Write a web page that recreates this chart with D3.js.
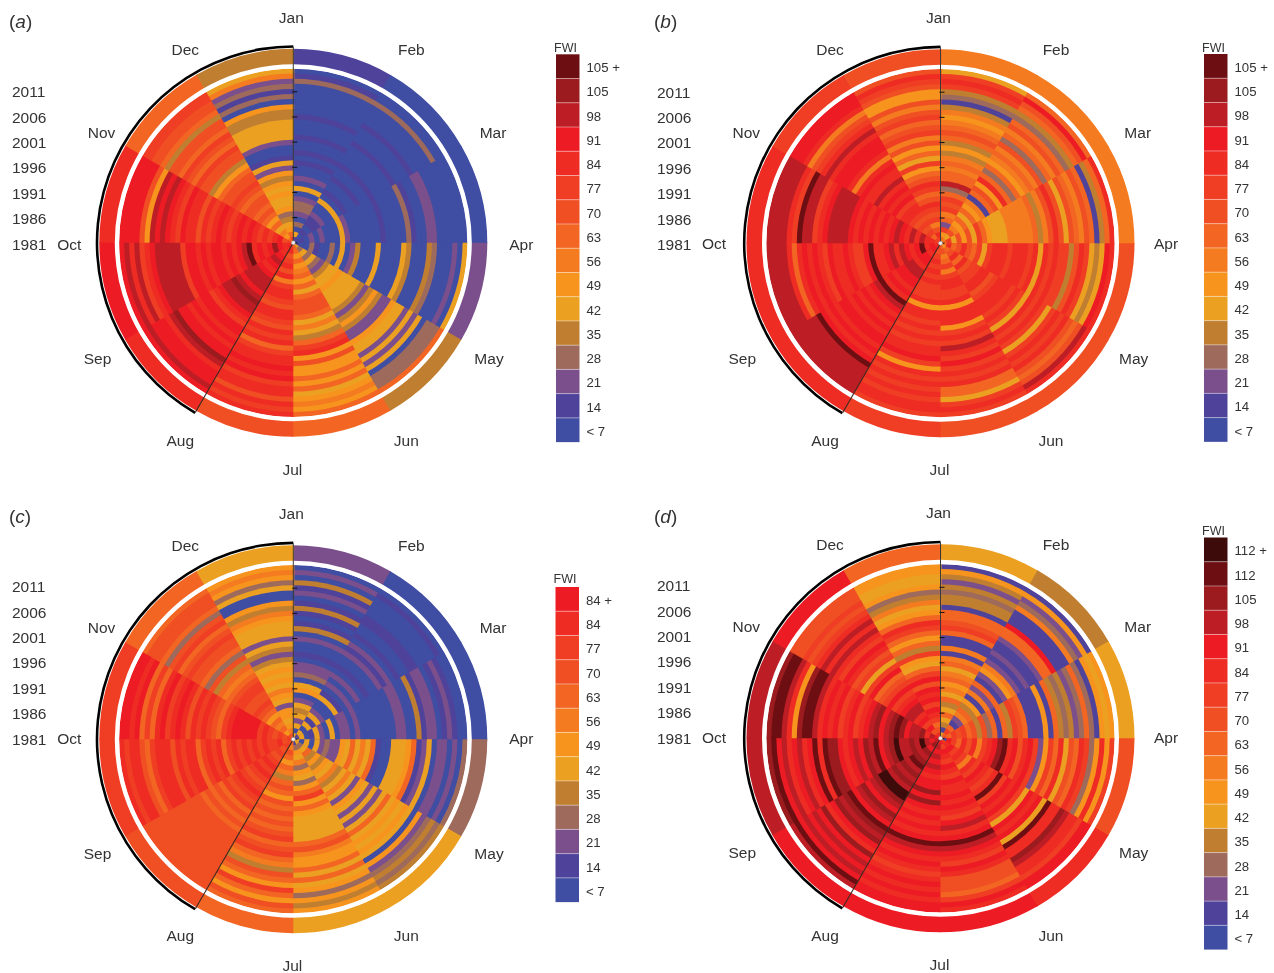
<!DOCTYPE html>
<html>
<head>
<meta charset="utf-8">
<script src="https://cdnjs.cloudflare.com/ajax/libs/d3/7.8.5/d3.min.js"></script>
<style>
  html, body { margin: 0; padding: 0; background: #fff; }
  text { font-family: "Liberation Sans", Arial, sans-serif; fill: #333; }
</style>
</head>
<body>
<div id="chart"></div>
<script>
var svgWidth = 1274;
var svgHeight = 973;

var months = ["Jan", "Feb", "Mar", "Apr", "May", "Jun", "Jul", "Aug", "Sep", "Oct", "Nov", "Dec"];
var yearTicks = [1981, 1986, 1991, 1996, 2001, 2006, 2011];

// FWI class of each year (inner ring first), one string per month.
// digit = class: 0 "<7", 1 "14", 2 "21" ... e "105", f "112", g "112 +"
var fwiA = [
  "15030 23320 50200 10100 10001 00000 0310",
  "10101 12005 01001 00100 00100 01000 0300",
  "01020 20005 20000 00100 00310 02200 0000",
  "10031 00305 02400 05000 05400 04300 0205",
  "53535 32455 65555 42464 22655 25250 3338",
  "88686 78685 89998 57548 ab696 68685 6768",
  "ab9ab 9b7ab ba9bb a9bab 8abbc bcabb 9bab",
  "cbbcd cbcdd dcded dcbac cbcbc cedbc ccdc",
  "bbcec bcbfd cbcbc cbcbc caddd ddcba dbdc",
  "a9cba babcb cbabc bab9b bcabc dcd69 cccc",
  "86758 68989 989a9 98649 9a89a 89948 99aa",
  "a8654 36556 56462 51002 55554 46031 3275"
];
var fwiB = [
  "86a28 7a9a8 3d887 87464 89876 74134 aba5",
  "75976 85867 1896b 83867 87938 79834 89c8",
  "8a596 95a86 55577 77784 79b95 98798 148b",
  "7b89b 98a5a bbbab bbab5 babaa 49ba5 45cb",
  "689b8 b9aab b9abb baba5 baba5 abab9 89db",
  "8978a 7abba ab6bb b6aba dbaca bab88 5aba",
  "a9aba babaa ab6bb ababa bbca6 babab abba",
  "bcbcc bddcc bcbfd cbcbc bccbc bcfdd dddd",
  "bcbfc bcdbd cbbfc aabcb bcabc bcb8b dddd",
  "abbdb dbcdc bcbcb cbcdd ddcba ddfab dddd",
  "a8a9a 9abba cbcbd bbcb7 bcccb dba97 bccc",
  "ab97a 9ab98 ab986 a5869 7a98a 97966 9ab9"
];
var fwiC = [
  "50525 45206 50322 01002 04101 41021 4020",
  "15051 52005 10202 01002 12010 01100 0010",
  "15015 20502 20200 00000 22004 12201 2100",
  "50505 23226 58575 81005 55681 25022 0203",
  "53584 64657 45752 65252 58565 65062 3434",
  "13657 36536 8a686 55555 89766 85856 3646",
  "87986 87489 86989 8989a 89a87 4986a 8698",
  "9a9a9 ababa 9aba9 a8989 89999 99999 9999",
  "a9baa babab aba8b aba8b bab9b bba89 bbab",
  "a9a9a baccc ccba8 9abab 9bcba cb8a8 cbcc",
  "96878 689a9 9aa98 78493 899a9 8a938 9998",
  "97656 62567 56565 42452 55567 46005 3676"
];
var fwiD = [
  "51458 54857 68758 71711 8a988 14434 2461",
  "8a812 78461 72812 67212 11288 c1117 3261",
  "98a9a 89493 8184a 98111 61843 42383 1656",
  "0ca8b 9b7ab cefbc 9bca2 6a8b5 98ba3 6b6a",
  "abcab a7bac babfa cbca5 cbc5f bbedb bacc",
  "cacba cbacb bcbcb acdbc fdcba cb999 8acb",
  "cdcdc dcbcc ececb cbcbc fdcbc babcb cbcc",
  "deced efded edgge dcedc fedec becdc dcfd",
  "dcdgd eddge dcfde cdcbc eefbf cbdcb dcfe",
  "cdbed dcefe dcedc bacba cbcbd ffe6b dffe",
  "b9cac bddcb aca98 ca5a9 bcabd bdba9 a999",
  "b98ab cacbc 9ca85 6a486 8ab86 57436 5566"
];

// long term mean per month (outer ring)
var meanA = "1002489bcb84";
var meanB = "777999abbba9";
var meanC = "20035589aa85";
var meanD = "5459bcccddc8";

var colours = ["#3f4da3", "#4f429b", "#7a4f8b", "#9d6a5c", "#c07f30", "#eca021", "#f7941d", "#f47b20", "#f26522",
  "#f04e23", "#ef3e24", "#ee2c24", "#ed1c24", "#bd1e25", "#9b1b1f", "#6d0f12", "#3e0b0b"];

var legendA = ["105 +", "105", "98", "91", "84", "77", "70", "63", "56", "49", "42", "35", "28", "21", "14", "< 7"];
var legendC = ["84 +", "84", "77", "70", "63", "56", "49", "42", "35", "28", "21", "14", "< 7"];
var legendD = ["112 +", "112", "105", "98", "91", "84", "77", "70", "63", "56", "49", "42", "35", "28", "21", "14", "< 7"];

var panels = [
  { tag: "a", fwi: fwiA, mean: meanA, legend: legendA, cx: 293.3, cy: 242.8, tagX: 9, tagY: 28, legX: 556, legY: 54.3, titleY: 52, yearX: 12, yearDy: 1.5, monthDx: 0, monthDy: 0, sideDy: 2 },
  { tag: "b", fwi: fwiB, mean: meanB, legend: legendA, cx: 940.5, cy: 243.2, tagX: 654, tagY: 28, legX: 1204, legY: 54, titleY: 52, yearX: 657, yearDy: 1.5, monthDx: -2.5, monthDy: -0.5, sideDy: 0.5 },
  { tag: "c", fwi: fwiC, mean: meanC, legend: legendC, cx: 293.3, cy: 739.2, tagX: 9, tagY: 523, legX: 555.5, legY: 587, titleY: 583, yearX: 12, yearDy: 0, monthDx: 0, monthDy: -1, sideDy: -1 },
  { tag: "d", fwi: fwiD, mean: meanD, legend: legendD, cx: 940.5, cy: 738.3, tagX: 654, tagY: 523, legX: 1204, legY: 537.5, titleY: 535, yearX: 657, yearDy: 0, monthDx: -2.5, monthDy: -1, sideDy: -1 }
];

// month names sit a little off the circle in the original
var labelDx = [-2, 5, 4, 2, 0, 0, -1, 0, 0, 2, 4, 5];
var labelDy = [0, 2, 2, 0, 3, 3, 2, 3, 3, 0, 2, 2];

var svg = d3.select("#chart")
  .append("svg")
  .attr("width", svgWidth)
  .attr("height", svgHeight)
  .style("display", "block")
  .style("filter", "blur(0.4px)");

var angle = d3.scaleLinear().domain([0, 12]).range([0, 2 * Math.PI]);
var ringScale = d3.scaleLinear().domain([0, 34]).range([1, 174.3]);
var yearScale = d3.scaleLinear().domain([1981, 2011]).range([0, 151]);
var arc = d3.arc();

function classOf(ch) {
  return parseInt(ch, 17);
}

panels.forEach(function(p) {
  var g = svg.append("g").attr("transform", `translate(${p.cx}, ${p.cy})`);

  // one wedge per month and year
  var cells = [];
  p.fwi.forEach(function(row, m) {
    row.replace(/ /g, "").split("").forEach(function(ch, i) {
      cells.push({ month: m, ring: i, level: classOf(ch) });
    });
  });
  // painted from the outside in so the rings have no hairline gaps
  cells.sort((a, b) => b.ring - a.ring || a.month - b.month);

  g.selectAll("path.cell")
    .data(cells)
    .enter()
    .append("path")
    .attr("class", "cell")
    .attr("d", d => arc({
      innerRadius: 0,
      outerRadius: ringScale(d.ring + 1),
      startAngle: angle(d.month),
      endAngle: angle(d.month + 1) + 0.006
    }))
    .attr("fill", d => colours[d.level]);

  // mean ring
  g.selectAll("path.mean")
    .data(p.mean.split(""))
    .enter()
    .append("path")
    .attr("class", "mean")
    .attr("d", (d, m) => arc({
      innerRadius: 176,
      outerRadius: 194,
      startAngle: angle(m),
      endAngle: angle(m + 1) + 0.004
    }))
    .attr("fill", d => colours[classOf(d)]);

  g.append("circle")
    .attr("r", 176.3)
    .attr("fill", "none")
    .attr("stroke", "#fff")
    .attr("stroke-width", 4.4);

  // fire season arc and spokes
  g.append("path")
    .attr("d", d3.arc()({
      innerRadius: 195,
      outerRadius: 197.6,
      startAngle: angle(7),
      endAngle: angle(12)
    }))
    .attr("fill", "#000");

  g.append("line")
    .attr("x1", 0).attr("y1", 0)
    .attr("x2", 0).attr("y2", -196)
    .attr("stroke", "#3a3a3a")
    .attr("stroke-width", 1);

  g.append("line")
    .attr("x1", 0).attr("y1", 0)
    .attr("x2", 196 * Math.sin(angle(7))).attr("y2", -196 * Math.cos(angle(7)))
    .attr("stroke", "#3a2a22")
    .attr("stroke-width", 1.1);

  g.selectAll("line.tick")
    .data(yearTicks)
    .enter()
    .append("line")
    .attr("class", "tick")
    .attr("x1", -1).attr("x2", 4)
    .attr("y1", d => -yearScale(d))
    .attr("y2", d => -yearScale(d))
    .attr("stroke", "#111")
    .attr("stroke-width", 1);

  g.append("circle")
    .attr("r", 2)
    .attr("fill", "#eee")
    .attr("stroke", "#888")
    .attr("stroke-width", 0.5);

  // month names
  g.selectAll("text.month")
    .data(months)
    .enter()
    .append("text")
    .attr("class", "month")
    .attr("x", (d, m) => 226 * Math.sin(angle(m)) + labelDx[m] + (m % 6 === 0 ? 0 : p.monthDx))
    .attr("y", (d, m) => -225 * Math.cos(angle(m)) + labelDy[m] + (m === 3 || m === 9 ? p.sideDy : p.monthDy))
    .attr("dy", "0.35em")
    .attr("text-anchor", "middle")
    .attr("font-size", 15.5)
    .text(d => d);

  // year names
  svg.selectAll(null)
    .data(yearTicks)
    .enter()
    .append("text")
    .attr("x", p.yearX)
    .attr("y", d => p.cy - yearScale(d) * 1.01 + p.yearDy)
    .attr("dy", "0.35em")
    .attr("font-size", 15.5)
    .text(d => d);

  // panel letter
  var tag = svg.append("text")
    .attr("x", p.tagX)
    .attr("y", p.tagY)
    .attr("font-size", 19);
  tag.append("tspan").text("(");
  tag.append("tspan").attr("font-style", "italic").text(p.tag);
  tag.append("tspan").text(")");

  // legend
  var cellH = 24.24;
  var legend = svg.append("g").attr("transform", `translate(${p.legX}, ${p.legY})`);
  var topLevel = p.legend.length - 1;

  legend.selectAll("rect")
    .data(p.legend)
    .enter()
    .append("rect")
    .attr("x", 0)
    .attr("y", (d, i) => i * cellH)
    .attr("width", 23.5)
    .attr("height", cellH)
    .attr("fill", (d, i) => colours[topLevel - i]);

  legend.selectAll("line")
    .data(p.legend.slice(1))
    .enter()
    .append("line")
    .attr("x1", 0).attr("x2", 23.5)
    .attr("y1", (d, i) => (i + 1) * cellH)
    .attr("y2", (d, i) => (i + 1) * cellH)
    .attr("stroke", "#fff")
    .attr("stroke-opacity", 0.4)
    .attr("stroke-width", 1);

  legend.selectAll("text")
    .data(p.legend)
    .enter()
    .append("text")
    .attr("x", 30.5)
    .attr("y", (d, i) => (i + 0.55) * cellH)
    .attr("dy", "0.35em")
    .attr("font-size", 13.2)
    .text(d => d);

  svg.append("text")
    .attr("x", p.legX - 2)
    .attr("y", p.titleY)
    .attr("font-size", 12.5)
    .text("FWI");
});
</script>
</body>
</html>
